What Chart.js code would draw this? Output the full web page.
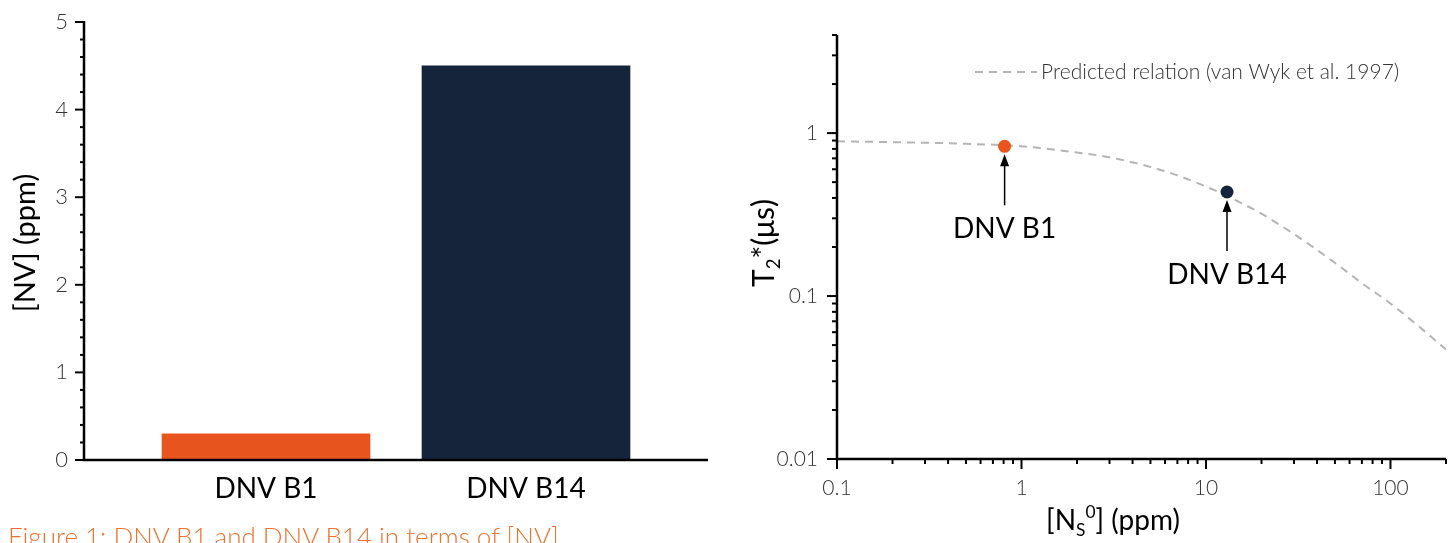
<!DOCTYPE html>
<html><head><meta charset="utf-8">
<script src="https://cdn.jsdelivr.net/npm/chart.js@4/dist/chart.umd.min.js"></script>
<style>
html,body{margin:0;padding:0;background:#fff;width:1453px;height:543px;overflow:hidden;position:relative}
#c1wrap{position:absolute;left:0;top:0;width:720px;height:543px}
#c2wrap{position:absolute;left:730px;top:0;width:723px;height:543px}
#caption{position:absolute;left:8px;top:520px;font-family:Lato,sans-serif;font-weight:300;font-size:26px;color:#f0712f;white-space:nowrap;line-height:32px}
</style></head><body>
<div id="c1wrap"><canvas id="c1"></canvas></div>
<div id="c2wrap"><canvas id="c2"></canvas></div>
<div id="caption"></div>
<script>
// ---- data ----
const barCategories = ['DNV B1', 'DNV B14'];
const barValues = [0.3, 4.5];
const barColors = ['#e8541e', '#16243b'];
const barYTicks = [0, 1, 2, 3, 4, 5];
const barYTitle = '[NV] (ppm)';

const pointNames = ['DNV B1', 'DNV B14'];
const pointNs = [0.81, 13.0];
const pointT2 = [0.83, 0.435];
const pointColors = ['#e8541e', '#16243b'];

const curveNs = [0.1, 0.2, 0.5, 1, 2, 3, 5, 7, 10, 15, 20, 30, 50, 70, 100, 150, 200];
const curveT2 = [0.89, 0.88, 0.86, 0.83, 0.76, 0.71, 0.62, 0.55, 0.47, 0.38, 0.32, 0.24, 0.16, 0.12, 0.09, 0.062, 0.047];
const curveLabel = 'Predicted relation (van Wyk et al. 1997)';
const logXTicks = [0.1, 1, 10, 100];
const logYTicks = [0.01, 0.1, 1];
const captionText = 'Figure 1: DNV B1 and DNV B14 in terms of [NV]';

Chart.defaults.font.family = 'Lato, "Noto Sans", sans-serif';
document.getElementById('caption').textContent = captionText;

function drawRuns(ctx, runs, size, cx, cy, rotate) {
  ctx.save();
  ctx.translate(cx, cy);
  if (rotate) ctx.rotate(-Math.PI / 2);
  let total = 0;
  const meas = runs.map(r => {
    ctx.font = (r.w || 400) + ' ' + (size * (r.s || 1)) + 'px Lato, "Noto Sans", sans-serif';
    const w = ctx.measureText(r.t).width;
    total += w;
    return w;
  });
  let x = -total / 2;
  ctx.textBaseline = 'alphabetic';
  ctx.textAlign = 'left';
  ctx.fillStyle = '#000';
  runs.forEach((r, i) => {
    ctx.font = (r.w || 400) + ' ' + (size * (r.s || 1)) + 'px Lato, "Noto Sans", sans-serif';
    ctx.fillText(r.t, x, size * 0.35 + (r.dy || 0) * size);
    x += meas[i];
  });
  ctx.restore();
}

// ---- left bar chart ----
const axes1 = {
  id: 'axes1',
  afterDraw(chart) {
    const ctx = chart.ctx, xs = chart.scales.x, ys = chart.scales.y, a = chart.chartArea;
    ctx.save();
    ctx.strokeStyle = '#000';
    ctx.lineWidth = 2.5;
    ctx.beginPath();
    ctx.moveTo(a.left, ys.getPixelForValue(5) - 1);
    ctx.lineTo(a.left, a.bottom);
    ctx.lineTo(a.right, a.bottom);
    ctx.stroke();
    ctx.lineWidth = 2;
    for (let i = 0; i <= 25; i++) {
      const v = i * 0.2;
      const y = ys.getPixelForValue(v);
      const len = (i % 5 === 0) ? 9 : 4;
      ctx.beginPath();
      ctx.moveTo(a.left - len, y);
      ctx.lineTo(a.left, y);
      ctx.stroke();
    }
    ctx.restore();
    drawRuns(ctx, [{t: barYTitle}], 29, 25, 243, true);
  }
};

new Chart(document.getElementById('c1'), {
  type: 'bar',
  data: {
    datasets: [{
      data: barCategories.map((c, i) => ({x: i, y: barValues[i]})),
      backgroundColor: barColors,
      borderWidth: 0,
      barThickness: 208
    }]
  },
  options: {
    responsive: true, maintainAspectRatio: false, animation: false,
    layout: {padding: {left: 0, right: 12, top: 22, bottom: 0}},
    plugins: {legend: {display: false}, tooltip: {enabled: false}},
    scales: {
      x: {
        type: 'linear', min: -0.7, max: 1.7, offset: false,
        grid: {display: false, drawTicks: false}, border: {display: false},
        afterBuildTicks: s => { s.ticks = barCategories.map((c, i) => ({value: i})); },
        ticks: {callback: v => barCategories[v], font: {size: 28}, color: '#000', padding: 12, autoSkip: false, maxRotation: 0},
        afterFit: s => { s.height = 83; s.paddingLeft = 0; s.paddingRight = 0; }
      },
      y: {
        min: 0, max: 5,
        grid: {display: false, drawTicks: false}, border: {display: false},
        afterBuildTicks: s => { s.ticks = barYTicks.map(v => ({value: v})); },
        ticks: {font: {size: 22, weight: '300'}, color: '#333', padding: 16},
        afterFit: s => { s.width = 84; s.paddingTop = 0; s.paddingBottom = 0; }
      }
    }
  },
  plugins: [axes1]
});

// ---- right log-log chart ----
const axes2 = {
  id: 'axes2',
  afterDraw(chart) {
    const ctx = chart.ctx, xs = chart.scales.x, ys = chart.scales.y, a = chart.chartArea;
    ctx.save();
    ctx.strokeStyle = '#000';
    ctx.lineWidth = 2.5;
    ctx.beginPath();
    ctx.moveTo(a.left, a.top);
    ctx.lineTo(a.left, a.bottom);
    ctx.lineTo(a.right, a.bottom);
    ctx.stroke();
    ctx.lineWidth = 2;
    // y ticks
    for (let d = 0.01; d <= 1.0001; d *= 10) {
      for (let k = 1; k <= 9; k++) {
        const v = d * k;
        if (v > ys.max * 1.0001) break;
        const y = ys.getPixelForValue(v);
        const len = k === 1 ? 10 : 5;
        ctx.beginPath(); ctx.moveTo(a.left - len, y); ctx.lineTo(a.left, y); ctx.stroke();
      }
    }
    // x ticks
    for (let d = 0.1; d <= 100.001; d *= 10) {
      for (let k = 1; k <= 9; k++) {
        const v = d * k;
        if (v > xs.max * 1.0001) break;
        const x = xs.getPixelForValue(v);
        const len = k === 1 ? 10 : 5;
        ctx.beginPath(); ctx.moveTo(x, a.bottom); ctx.lineTo(x, a.bottom + len); ctx.stroke();
      }
    }
    // legend
    ctx.strokeStyle = '#b5b5b5';
    ctx.lineWidth = 2;
    ctx.setLineDash([8, 6]);
    ctx.beginPath(); ctx.moveTo(245, 72); ctx.lineTo(307, 72); ctx.stroke();
    ctx.setLineDash([]);
    ctx.fillStyle = '#333';
    ctx.font = '300 21px Lato, "Noto Sans", sans-serif';
    ctx.textAlign = 'left'; ctx.textBaseline = 'middle';
    ctx.fillText(curveLabel, 311, 72);
    // arrows and labels
    ctx.strokeStyle = '#000'; ctx.fillStyle = '#000'; ctx.lineWidth = 1.5;
    pointNames.forEach((n, i) => {
      const px = xs.getPixelForValue(pointNs[i]);
      const py = ys.getPixelForValue(pointT2[i]);
      ctx.beginPath(); ctx.moveTo(px, py + 59); ctx.lineTo(px, py + 16); ctx.stroke();
      ctx.beginPath(); ctx.moveTo(px, py + 8); ctx.lineTo(px - 4.5, py + 20); ctx.lineTo(px + 4.5, py + 20); ctx.closePath(); ctx.fill();
      ctx.font = '400 28px Lato, "Noto Sans", sans-serif';
      ctx.textAlign = 'center'; ctx.textBaseline = 'middle';
      ctx.fillText(n, px, py + 83);
    });
    ctx.restore();
    drawRuns(ctx, [{t: 'T'}, {t: '2', s: 0.62, dy: 0.22}, {t: '*(\u03bcs)'}], 30, 33, 243, true);
    drawRuns(ctx, [{t: '[N'}, {t: 'S', s: 0.62, dy: 0.22}, {t: '0', s: 0.62, dy: -0.42}, {t: '] (ppm)'}], 28, 383, 520, false);
  }
};

new Chart(document.getElementById('c2'), {
  type: 'scatter',
  data: {
    datasets: [
      {
        type: 'line', label: curveLabel,
        data: curveNs.map((x, i) => ({x: x, y: curveT2[i]})),
        borderColor: '#b5b5b5', borderWidth: 2, borderDash: [8, 6],
        pointRadius: 0, fill: false, cubicInterpolationMode: 'monotone', order: 2
      },
      {
        type: 'scatter', label: 'samples',
        data: pointNs.map((x, i) => ({x: x, y: pointT2[i]})),
        backgroundColor: pointColors, borderWidth: 0, pointRadius: 6.5, order: 1
      }
    ]
  },
  options: {
    responsive: true, maintainAspectRatio: false, animation: false,
    layout: {padding: {left: 0, right: 7, top: 35, bottom: 0}},
    plugins: {legend: {display: false}, tooltip: {enabled: false}},
    scales: {
      x: {
        type: 'logarithmic', min: 0.1, max: 200,
        grid: {display: false, drawTicks: false}, border: {display: false},
        afterBuildTicks: s => { s.ticks = logXTicks.map(v => ({value: v})); },
        ticks: {callback: v => String(v), font: {size: 21, weight: '300'}, color: '#333', padding: 17, autoSkip: false, maxRotation: 0},
        afterFit: s => { s.height = 84; s.paddingLeft = 0; s.paddingRight = 0; }
      },
      y: {
        type: 'logarithmic', min: 0.01, max: 4,
        grid: {display: false, drawTicks: false}, border: {display: false},
        afterBuildTicks: s => { s.ticks = logYTicks.map(v => ({value: v})); },
        ticks: {callback: v => String(v), font: {size: 21, weight: '300'}, color: '#333', padding: 19, autoSkip: false},
        afterFit: s => { s.width = 107; s.paddingTop = 0; s.paddingBottom = 0; }
      }
    }
  },
  plugins: [axes2]
});
</script>
</body></html>
